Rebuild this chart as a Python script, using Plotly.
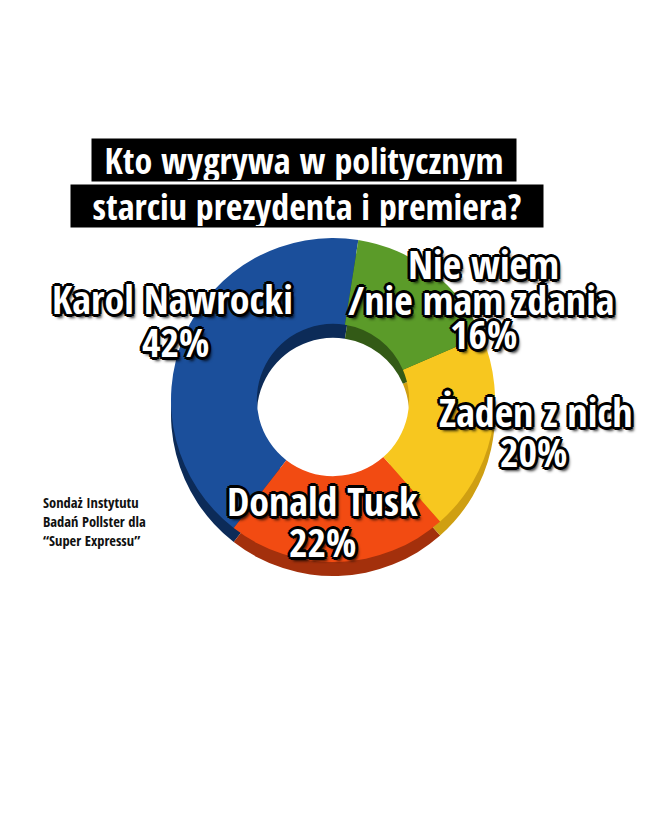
import plotly.graph_objects as go

# poll data
labels = ["Karol Nawrocki", "Donald Tusk", "Żaden z nich", "Nie wiem<br>/nie mam zdania"]
values = [42, 22, 20, 16]
top_colors = ["#1b4f9b", "#f24b12", "#f7c71f", "#5b9b29"]
side_colors = ["#0c2b58", "#a3300c", "#cf9f12", "#335a16"]

title_lines = ["Kto wygrywa w politycznym", "starciu prezydenta i premiera?"]
source_lines = ["Sondaż Instytutu", "Badań Pollster dla", "“Super Expressu”"]

W, H = 664, 830
OFF = 8  # page body margin, positions below are measured on the page
FONT = "'Open Sans Condensed', 'Roboto Condensed', sans-serif"

# pie geometry in page pixels
cx, cy, R = 333, 400, 162
depth = 14
hole = 0.47
# first slice starts a bit right of 12 o'clock and runs counterclockwise
start = 9
rot = start - 360 * values[0] / sum(values)


def px_x(x):
    return (x - OFF) / W


def px_y(y):
    return 1 - (y - OFF) / H


def dom(cx, cy, r):
    return dict(x=[px_x(cx - r), px_x(cx + r)], y=[px_y(cy + r), px_y(cy - r)])


fig = go.Figure()

# side / inner wall of the ring: same pie shifted down, darker colours
fig.add_trace(go.Pie(
    labels=labels, values=values, sort=False, direction="counterclockwise",
    rotation=rot, hole=hole,
    marker=dict(colors=side_colors, line=dict(width=0)),
    textinfo="none", hoverinfo="skip", showlegend=False,
    domain=dom(cx, cy + depth, R),
))

# top face
fig.add_trace(go.Pie(
    labels=labels, values=values, sort=False, direction="counterclockwise",
    rotation=rot, hole=hole,
    marker=dict(colors=top_colors, line=dict(width=0)),
    textinfo="none", showlegend=False,
    domain=dom(cx, cy, R),
))

outline = ("-2px -2px 0 #000, 2px -2px 0 #000, -2px 2px 0 #000, 2px 2px 0 #000, "
           "0 3px 0 #000, 3px 0 0 #000, 0 -3px 0 #000, -3px 0 0 #000, 3px 4px 3px rgba(0,0,0,0.8)")

# label line positions (page px) for each slice, last one is the percent
label_pos = [[(172, 298), (175, 341)],
             [(322, 500), (322, 541)],
             [(535, 411), (533, 451)],
             [(483, 263), (481, 299), (483, 333)]]

annotations = []
for lab, val, pos in zip(labels, values, label_pos):
    lines = lab.split("<br>") + [f"{val}%"]
    for line, (px, py) in zip(lines, pos):
        annotations.append(dict(
            text=line, x=px_x(px), y=px_y(py), xref="paper", yref="paper",
            showarrow=False, xanchor="center", yanchor="middle",
            font=dict(family=FONT, size=40, color="white", weight=800, shadow=outline),
        ))

# title: white text on black boxes
for line, xpx, ypx, wpx in zip(title_lines, [304, 307], [160, 206], [422, 470]):
    annotations.append(dict(
        text=line, x=px_x(xpx), y=px_y(ypx), xref="paper", yref="paper",
        showarrow=False, xanchor="center", yanchor="middle",
        bgcolor="black", width=wpx, height=40, borderpad=1,
        font=dict(family=FONT, size=36, color="white", weight=800),
    ))

for i, line in enumerate(source_lines):
    annotations.append(dict(
        text=line, x=px_x(41), y=px_y(502 + 19 * i), xref="paper", yref="paper",
        showarrow=False, xanchor="left", yanchor="middle", align="left",
        font=dict(family=FONT, size=14.5, color="#111", weight=700),
    ))

fig.update_layout(
    width=W, height=H, margin=dict(l=0, r=0, t=0, b=0),
    paper_bgcolor="white", plot_bgcolor="white",
    annotations=annotations,
)

fig.write_html("out.html")
